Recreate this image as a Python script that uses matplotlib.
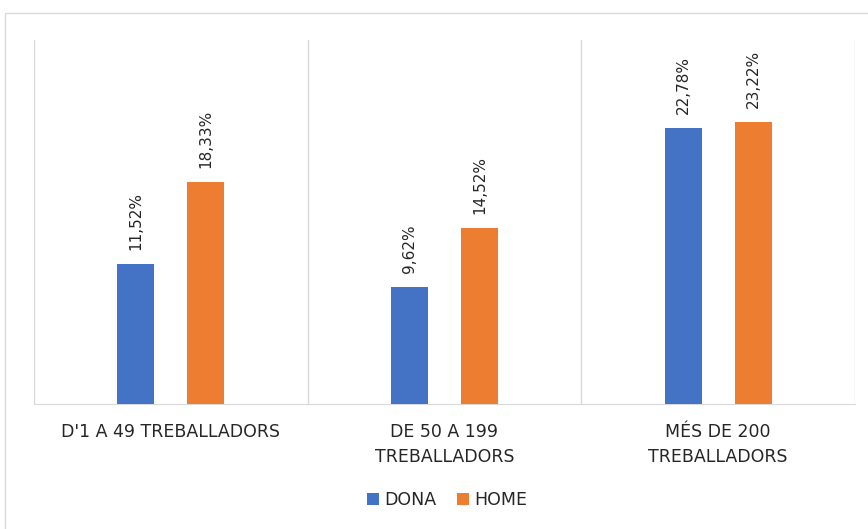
import matplotlib
matplotlib.use("Agg")
import matplotlib.pyplot as plt
import numpy as np
from matplotlib.patches import Rectangle

categories = ["D'1 A 49 TREBALLADORS", "DE 50 A 199\nTREBALLADORS", "MÉS DE 200\nTREBALLADORS"]
dona = [11.52, 9.62, 22.78]
home = [18.33, 14.52, 23.22]
series_names = ["DONA", "HOME"]
colors = ["#4472C4", "#ED7D31"]

W, H = 868, 529
fig = plt.figure(figsize=(W/100, H/100), dpi=100)
fig.patches.append(Rectangle((5/W, -0.1), 1.2, 1 - 13/H + 0.1, transform=fig.transFigure,
                             fill=False, edgecolor="#d9d9d9", linewidth=1))
ax = fig.add_axes([34/W, 1 - 404/H, (855-34)/W, (404-40)/H])

x = np.arange(len(categories))
bw = 0.136
off = 0.128
for vals, name, c, sgn in [(dona, series_names[0], colors[0], -1), (home, series_names[1], colors[1], 1)]:
    bars = ax.bar(x + sgn*off, vals, width=bw, color=c, label=name, zorder=3)
    for b, v in zip(bars, vals):
        ax.annotate(f"{v:.2f}%".replace(".", ","), (b.get_x() + b.get_width()/2, v),
                    xytext=(0, 10), textcoords="offset points", rotation=90,
                    ha="center", va="bottom", fontsize=11, color="#262626")

ax.set_xlim(-0.5, 2.5)
ax.set_ylim(0, 30)
ax.set_yticks([])
for s in ["top", "right", "left"]:
    ax.spines[s].set_visible(False)
ax.spines["bottom"].set_color("#d9d9d9")
for b in [-0.5, 0.5, 1.5, 2.5]:
    ax.axvline(b, color="#d9d9d9", linewidth=1, zorder=1)
ax.set_xticks(x)
ax.set_xticklabels(categories, fontsize=12.5, color="#262626", linespacing=1.45)
ax.tick_params(axis="x", length=0, pad=14)

fig.legend(loc="center", bbox_to_anchor=(0.515, 1 - 500/H), ncol=2, frameon=False,
           fontsize=12.5, handlelength=0.7, handleheight=0.7, handletextpad=0.3,
           columnspacing=1.2, labelcolor="#262626")

fig.savefig("out.png", dpi=100)
